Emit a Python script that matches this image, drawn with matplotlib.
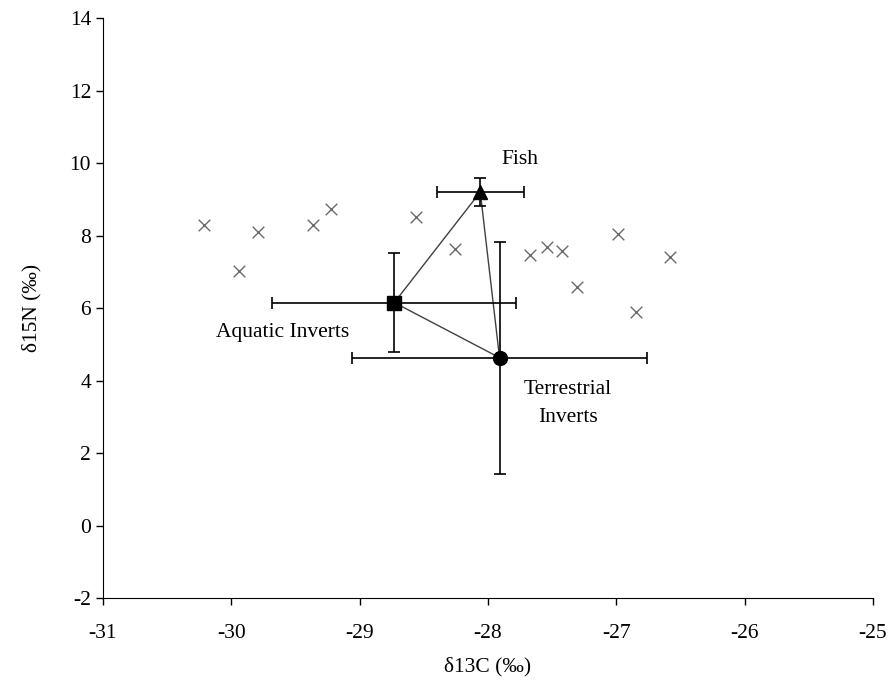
import matplotlib
matplotlib.use("Agg")
import matplotlib.pyplot as plt

plt.rcParams["font.family"] = ["Liberation Serif", "DejaVu Serif"]
plt.rcParams["axes.unicode_minus"] = False

# consumer samples (crosses)
cons_c = [-30.21, -29.94, -29.79, -29.36, -29.22, -28.56, -28.26,
          -27.67, -27.54, -27.42, -27.31, -26.99, -26.85, -26.58]
cons_n = [8.30, 7.03, 8.11, 8.30, 8.72, 8.50, 7.64,
          7.45, 7.67, 7.56, 6.57, 8.03, 5.90, 7.42]

# source means and errors: aquatic inverts, fish, terrestrial inverts
src_names = ["Aquatic Inverts", "Fish", "Terrestrial\nInverts"]
src_c = [-28.73, -28.06, -27.91]
src_n = [6.15, 9.20, 4.63]
src_c_err = [0.95, 0.34, 1.15]
src_n_err = [1.36, 0.38, 3.20]
src_markers = ["s", "^", "o"]

fig, ax = plt.subplots(figsize=(8.93, 6.90), dpi=100)
fig.subplots_adjust(left=0.1153, right=0.9776, bottom=0.1333, top=0.9739)

ax.scatter(cons_c, cons_n, marker="x", s=70, color="#6a6a6a", linewidths=1.0, zorder=2)

# mixing triangle
tri_c = src_c + [src_c[0]]
tri_n = src_n + [src_n[0]]
ax.plot(tri_c, tri_n, color="#404040", lw=1.0, zorder=3)

for c, n, ce, ne, m in zip(src_c, src_n, src_c_err, src_n_err, src_markers):
    ax.errorbar(c, n, xerr=ce, yerr=ne, fmt="none", ecolor="black",
                elinewidth=1.2, capsize=4, capthick=1.2, zorder=4)
    ax.plot(c, n, marker=m, color="black", markersize=10, ls="none", zorder=5)

fs = 15.5
ax.text(-27.75, 10.1, src_names[1], fontsize=fs, ha="center", va="center")
ax.text(-29.6, 5.32, src_names[0], fontsize=fs, ha="center", va="center")
ax.text(-27.38, 3.37, src_names[2], fontsize=fs, ha="center", va="center",
        linespacing=1.6)

ax.set_xlim(-31, -25)
ax.set_ylim(-2, 14)
ax.set_xticks(range(-31, -24))
ax.set_yticks(range(-2, 15, 2))
ax.tick_params(labelsize=fs, direction="out", length=5, width=1)
ax.tick_params(axis="x", pad=14)
ax.spines["top"].set_visible(False)
ax.spines["right"].set_visible(False)
ax.set_xlabel("δ13C (‰)", fontsize=fs, labelpad=10)
ax.set_ylabel("δ15N (‰)", fontsize=fs, labelpad=20)

fig.savefig("out.png", dpi=100)
